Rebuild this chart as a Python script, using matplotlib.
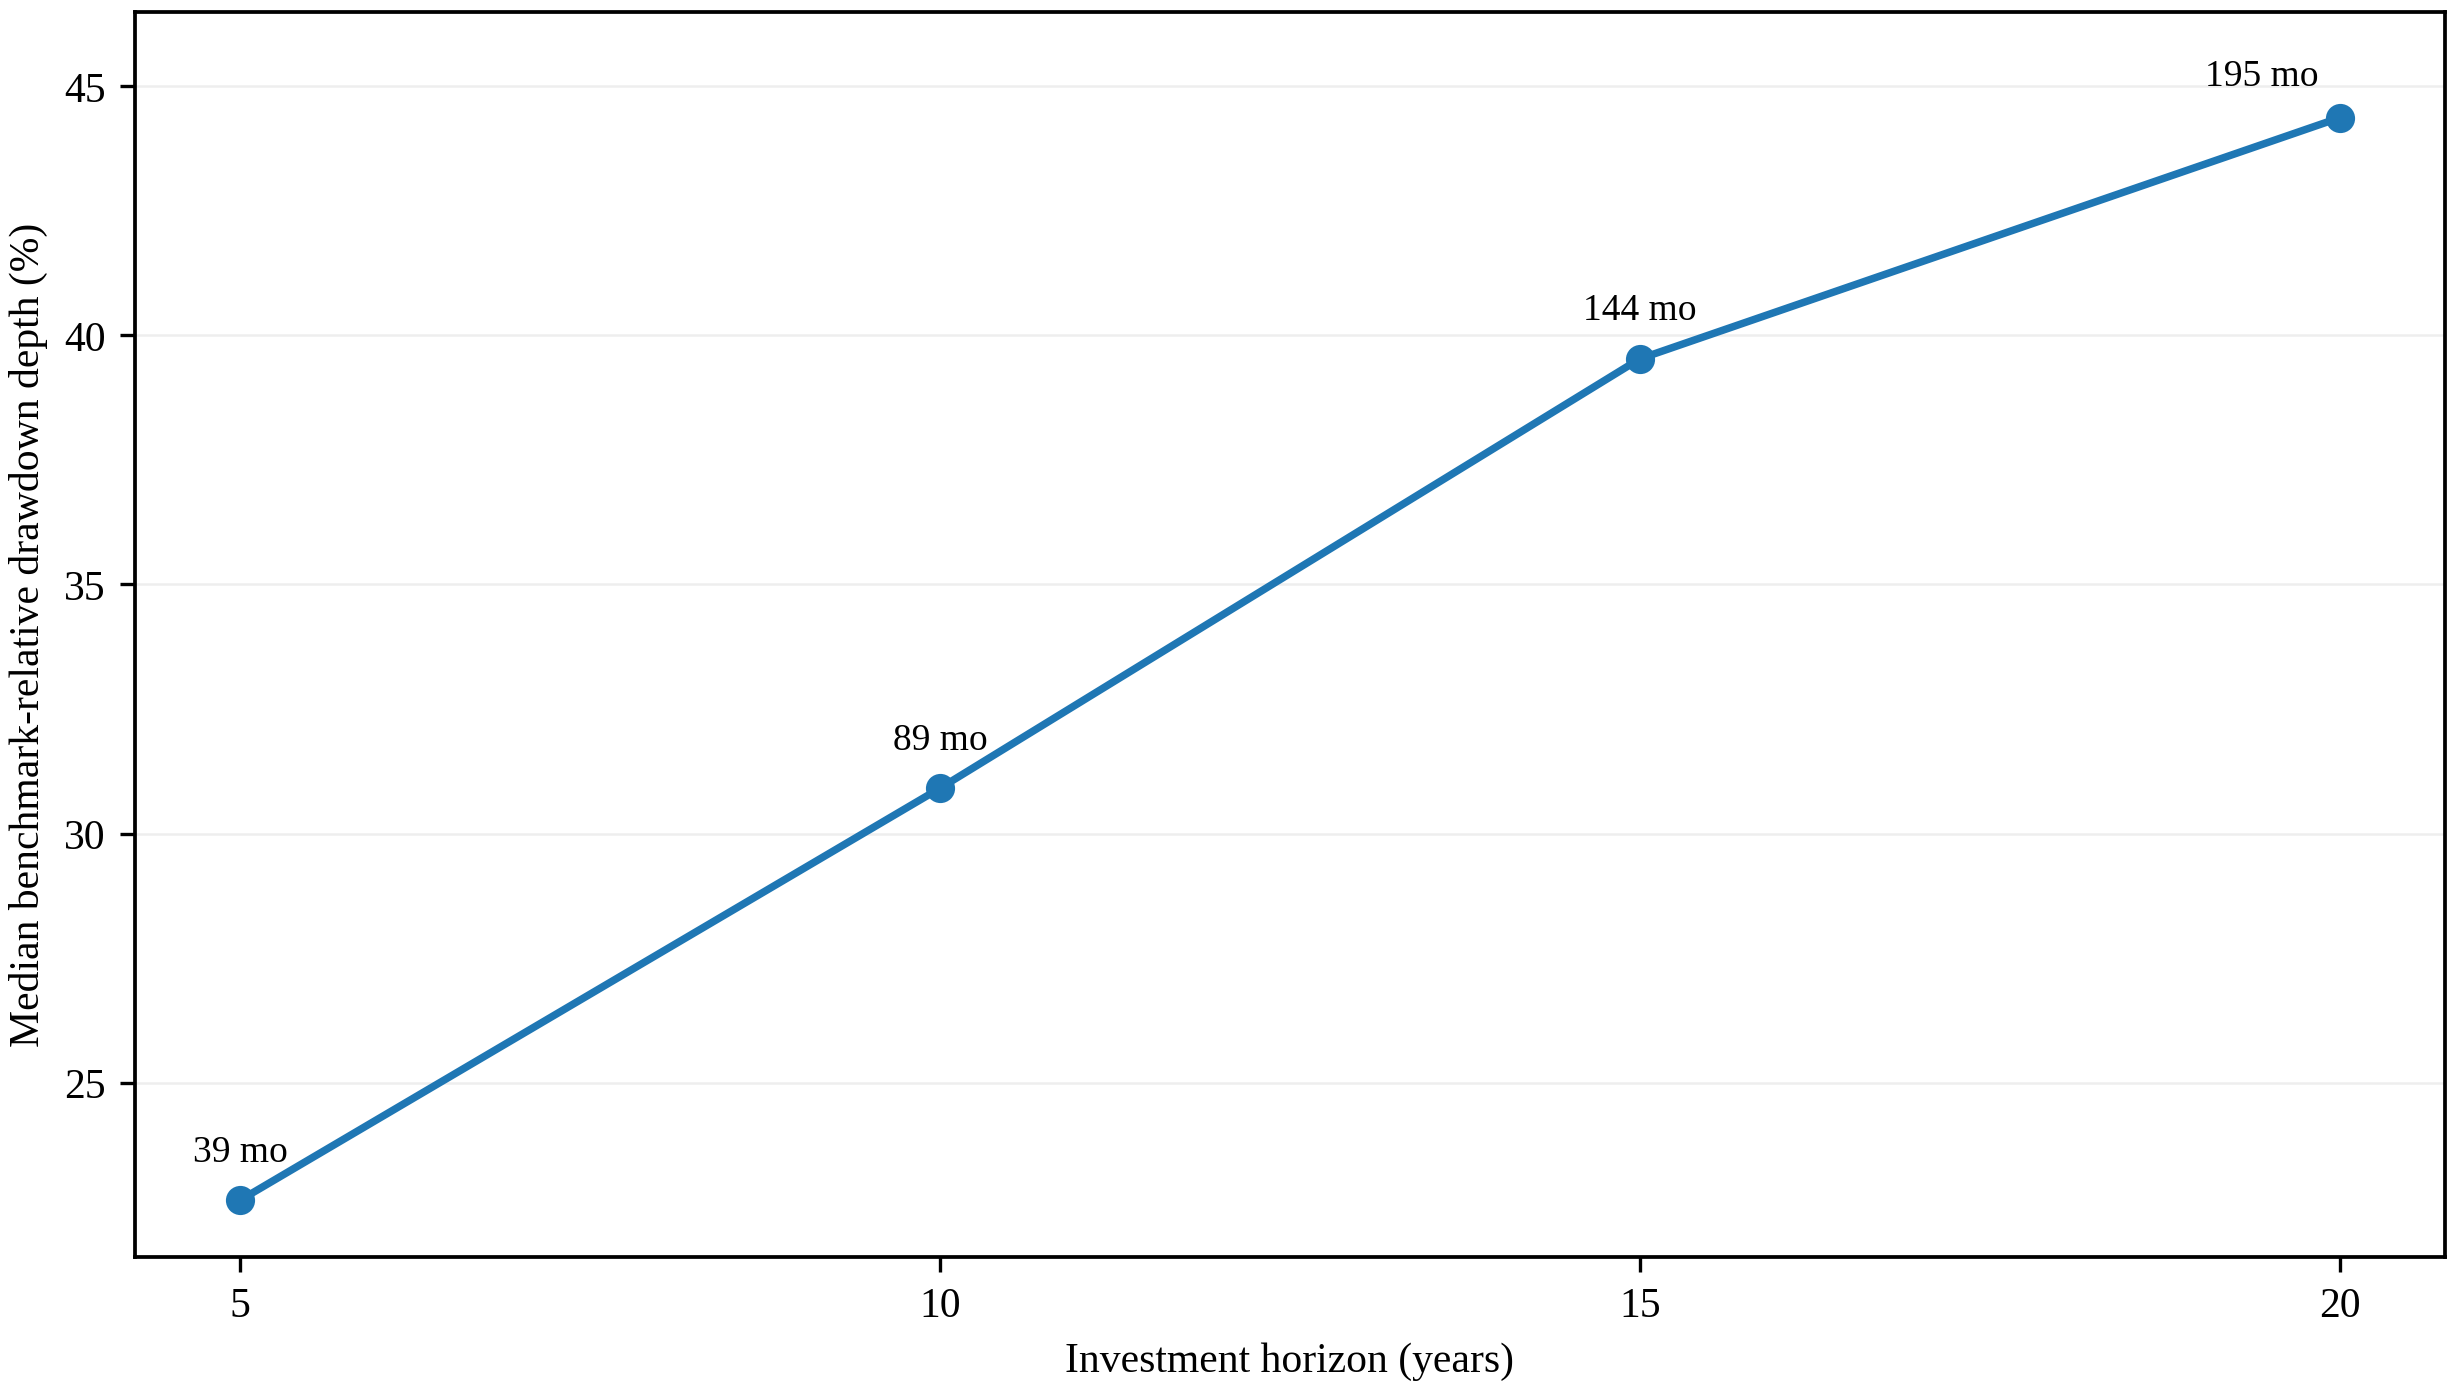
import matplotlib
matplotlib.use("Agg")
import matplotlib.pyplot as plt

# horizon (years) vs median relative drawdown depth, with median duration labels
horizons = [5, 10, 15, 20]
depth_pct = [22.64, 30.91, 39.53, 44.37]
duration_labels = ["39 mo", "89 mo", "144 mo", "195 mo"]

plt.rcParams['font.family'] = ['Liberation Serif', 'DejaVu Serif']
plt.rcParams['font.size'] = 10

fig, ax = plt.subplots(figsize=(8.19, 4.633), dpi=300)
ax.plot(horizons, depth_pct, marker='o', color='#1f77b4', lw=1.8, ms=6)
for i, (x, y, lab) in enumerate(zip(horizons, depth_pct, duration_labels)):
    if i == len(horizons) - 1:
        # last label pushed left so it stays inside the frame
        ax.annotate(lab, (x, y), textcoords='offset points', xytext=(-5, 6),
                    ha='right', va='bottom', fontsize=9)
    else:
        ax.annotate(lab, (x, y), textcoords='offset points', xytext=(0, 7.5),
                    ha='center', va='bottom', fontsize=9)

ax.set_xticks(horizons)
ax.set_yticks([25, 30, 35, 40, 45])
ax.set_ylim(21.5, 46.5)
ax.grid(axis='y', color='#eeeeee', lw=0.6)
ax.set_axisbelow(True)
ax.set_xlabel("Investment horizon (years)")
ax.set_ylabel("Median benchmark-relative drawdown depth (%)")
for s in ax.spines.values():
    s.set_linewidth(0.9)

fig.subplots_adjust(left=0.055, right=0.995, top=0.991, bottom=0.095)
fig.savefig("out.png", dpi=300)
